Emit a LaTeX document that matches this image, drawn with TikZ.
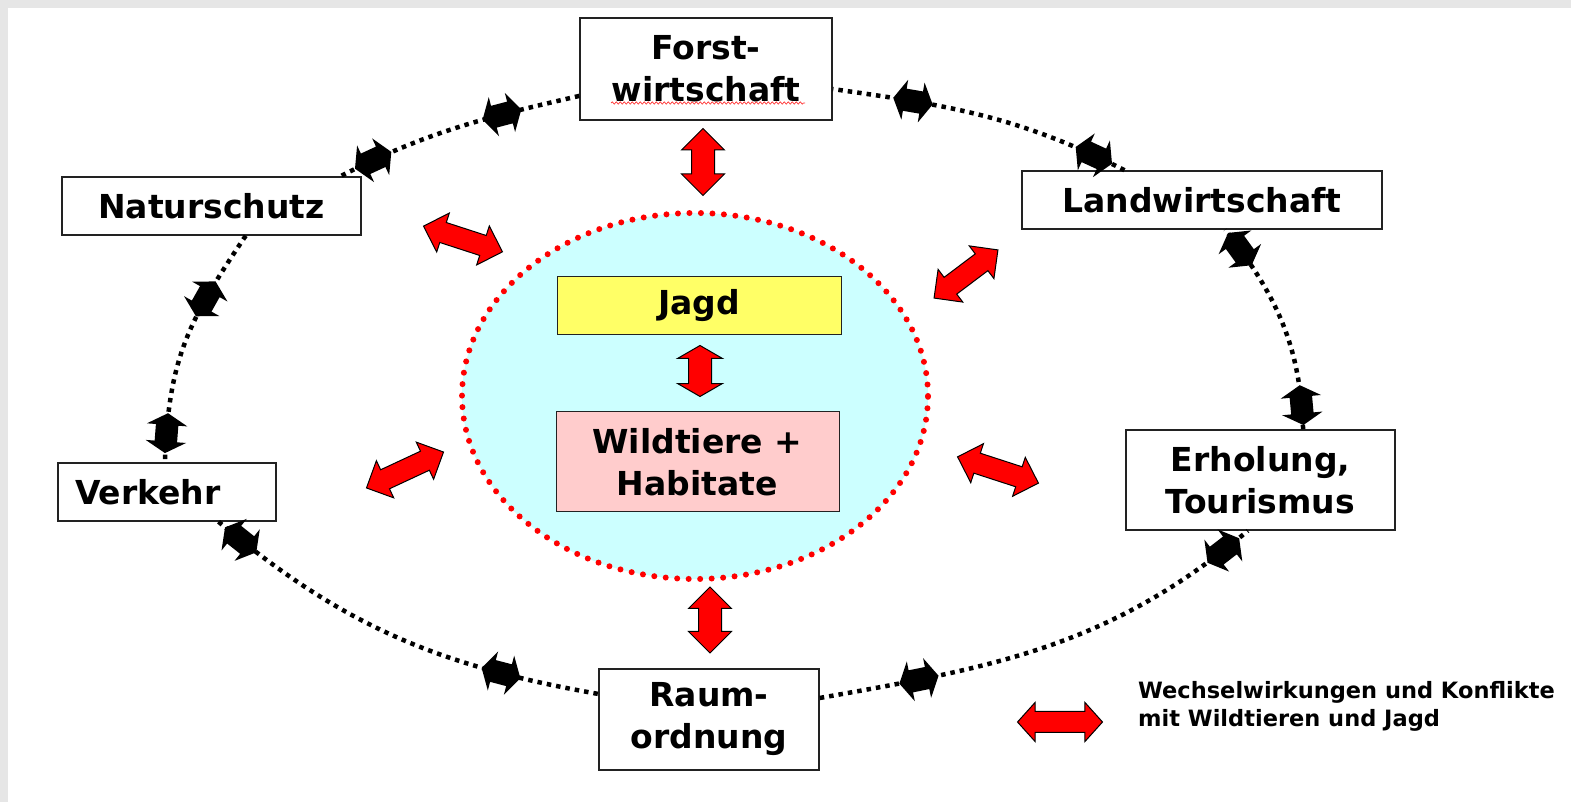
\documentclass[tikz,border=0pt]{standalone}
\usepackage{fontspec}
\setmainfont{DejaVu Sans}
\usetikzlibrary{shapes.arrows,shapes.geometric,decorations.pathmorphing}
\definecolor{framegray}{HTML}{E6E6E6}
\definecolor{corecyan}{HTML}{CCFFFF}
\definecolor{jagdyellow}{HTML}{FFFF66}
\definecolor{wildpink}{HTML}{FFCCCC}
\definecolor{boxline}{HTML}{222222}
\newcommand\boxfont{\fontsize{33}{42}\selectfont\bfseries}
\newcommand\legendfont{\fontsize{22.5}{28}\selectfont\bfseries}
\newcommand\shaftrule[1]{\rule{0pt}{#1}}
\begin{document}
\begin{tikzpicture}[x=1pt,y=1pt,
  outerbox/.style={draw=boxline, line width=1.5pt, fill=white, inner sep=0pt, align=center, font=\boxfont},
  innerbox/.style={draw=boxline, line width=1pt, inner sep=0pt, align=center, font=\boxfont},
  redarr/.style 2 args={double arrow, fill=red, draw=black, line width=1pt, inner sep=0pt,
     minimum height=#1, double arrow head extend=#2},
  blackarr/.style={double arrow, fill=black, draw=none, inner sep=0pt, minimum height=40pt,
     double arrow head extend=9pt, double arrow tip angle=120, sloped},
  ring/.style={draw=black, line width=4.5pt, dash pattern=on 4.5pt off 5pt}
]
\useasboundingbox (0,0) rectangle (1571,802);
\fill[framegray] (0,0) rectangle (1571,802);
\fill[white] (8,0) rectangle (1571,794);

% outer boxes
\node[outerbox, minimum width=252pt, minimum height=102pt] (forst) at (706,733) {Forst-\\wirtschaft};
\node[outerbox, minimum width=299pt, minimum height=58pt] (natur) at (211.5,596) {Naturschutz};
\node[outerbox, minimum width=360pt, minimum height=58pt] (landw) at (1202,602) {Landwirtschaft};
\node[outerbox, minimum height=58pt, text width=184pt, align=left, inner xsep=17pt] (verkehr) at (167,310) {Verkehr};
\node[outerbox, minimum width=269pt, minimum height=100pt] (erhol) at (1260.5,322) {Erholung,\\Tourismus};
\node[outerbox, minimum width=220pt, minimum height=101pt] (raum) at (709,82.5) {Raum-\\ordnung};

% spell-check squiggle
\draw[red!80, line width=0.7pt, decorate, decoration={snake, amplitude=1.1pt, segment length=4pt}] (611,699) -- (805,699);

% central ellipse
\node[ellipse, fill=corecyan, draw=red, line width=6pt, dash pattern=on 0pt off 11.5pt, line cap=round,
      minimum width=466pt, minimum height=366pt, inner sep=0pt] (core) at (695,406) {};
\node[innerbox, fill=jagdyellow, minimum width=284pt, minimum height=58pt] (jagd) at (699,496) {Jagd};
\node[innerbox, fill=wildpink, minimum width=283pt, minimum height=100pt] (wild) at (697.5,340) {Wildtiere +\\Habitate};

% dotted ring connectors with black double arrows
\draw[ring] (forst.192.5) to[out=193, in=27]
  node[blackarr, pos=0.3] (b1) {\shaftrule{18pt}}
  node[blackarr, pos=0.87] (b2) {\shaftrule{18pt}} (natur.13.2);
\draw[ring] (natur.-41) to[out=236, in=88, looseness=1.1]
  node[blackarr, pos=0.28] (b3) {\shaftrule{18pt}}
  node[blackarr, pos=0.9] (b4) {\shaftrule{18pt}} (verkehr.94);
\draw[ring] (verkehr.-30) to[out=-40, in=170]
  node[blackarr, pos=0.06] (b5) {\shaftrule{18pt}}
  node[blackarr, pos=0.78] (b6) {\shaftrule{18pt}} (raum.167);
\draw[ring] (raum.11.6) to[out=10, in=220]
  node[blackarr, pos=0.2] (b7) {\shaftrule{18pt}}
  node[blackarr, pos=0.94] (b8) {\shaftrule{18pt}} (erhol.256);
\draw[ring] (erhol.50) to[out=92, in=308]
  node[blackarr, pos=0.1] (b9) {\shaftrule{18pt}}
  node[blackarr, pos=0.9] (b10) {\shaftrule{18pt}} (landw.-52);
\draw[ring] (landw.159) to[out=153, in=-8]
  node[blackarr, pos=0.1] (b11) {\shaftrule{18pt}}
  node[blackarr, pos=0.75] (b12) {\shaftrule{18pt}} (forst.-9.5);

% red double arrows
\node[redarr={67pt}{10pt}, rotate=90] (r1) at (703,640) {\shaftrule{22pt}};
\node[redarr={83pt}{10pt}, rotate=-18] (r2) at (463,563) {\shaftrule{20pt}};
\node[redarr={80pt}{10pt}, rotate=37] (r3) at (966,528) {\shaftrule{20pt}};
\node[redarr={85pt}{10pt}, rotate=25] (r4) at (405,332) {\shaftrule{20pt}};
\node[redarr={85pt}{10pt}, rotate=-18] (r5) at (998,332) {\shaftrule{20pt}};
\node[redarr={66pt}{10pt}, rotate=90] (r6) at (710,182) {\shaftrule{22pt}};
\node[redarr={51pt}{11pt}, rotate=90, double arrow tip angle=120] (r7) at (700,431) {\shaftrule{22pt}};

% legend
\node[redarr={85pt}{9pt}, double arrow tip angle=96] (lg) at (1060,80) {\shaftrule{20pt}};
\node[anchor=west, align=left, inner sep=0pt, font=\legendfont] (lgtext) at (1138,96)
  {Wechselwirkungen und Konflikte\\mit Wildtieren und Jagd};
\end{tikzpicture}
\end{document}
